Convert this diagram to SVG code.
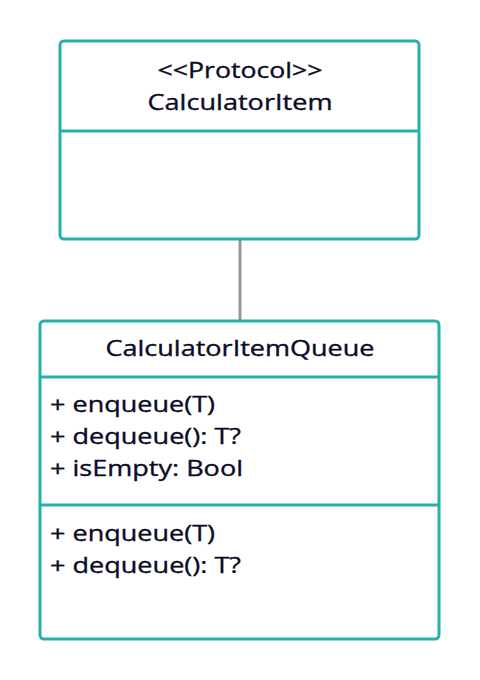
<svg xmlns="http://www.w3.org/2000/svg" width="480" height="680" viewBox="0 0 480 680">
  <style>
    .box { fill: #ffffff; stroke: #26b0aa; stroke-width: 3; }
    .div { stroke: #26b0aa; stroke-width: 3; }
    .link { stroke: #999999; stroke-width: 3; fill: none; }
    text { font-family: "Open Sans", "Noto Sans", sans-serif; font-size: 22px; fill: #0b0b26; stroke: #0b0b26; stroke-width: 0.35; }
    .c { text-anchor: middle; }
  </style>
  <rect width="480" height="680" fill="#ffffff"/>
  <g id="connectors">
    <line class="link" x1="240" y1="240" x2="240" y2="320"/>
  </g>
  <g id="calculator-item">
    <rect class="box" x="60" y="41" width="359" height="198" rx="4"/>
    <line class="div" x1="60" y1="131" x2="419" y2="131"/>
    <text class="c" x="240" y="77.5" textLength="165" lengthAdjust="spacingAndGlyphs">&lt;&lt;Protocol&gt;&gt;</text>
    <text class="c" x="240" y="109.5" textLength="185" lengthAdjust="spacingAndGlyphs">CalculatorItem</text>
  </g>
  <g id="calculator-item-queue">
    <rect class="box" x="40" y="321" width="399" height="318" rx="4"/>
    <line class="div" x1="40" y1="377" x2="439" y2="377"/>
    <line class="div" x1="40" y1="505" x2="439" y2="505"/>
    <text class="c" x="240" y="355.5" textLength="269" lengthAdjust="spacingAndGlyphs">CalculatorItemQueue</text>
    <text x="50" y="411.5" textLength="165" lengthAdjust="spacingAndGlyphs">+ enqueue(T)</text>
    <text x="50" y="443.5" textLength="191" lengthAdjust="spacingAndGlyphs">+ dequeue(): T?</text>
    <text x="50" y="475.5" textLength="193" lengthAdjust="spacingAndGlyphs">+ isEmpty: Bool</text>
    <text x="50" y="540.5" textLength="165" lengthAdjust="spacingAndGlyphs">+ enqueue(T)</text>
    <text x="50" y="572.5" textLength="191" lengthAdjust="spacingAndGlyphs">+ dequeue(): T?</text>
  </g>
</svg>
